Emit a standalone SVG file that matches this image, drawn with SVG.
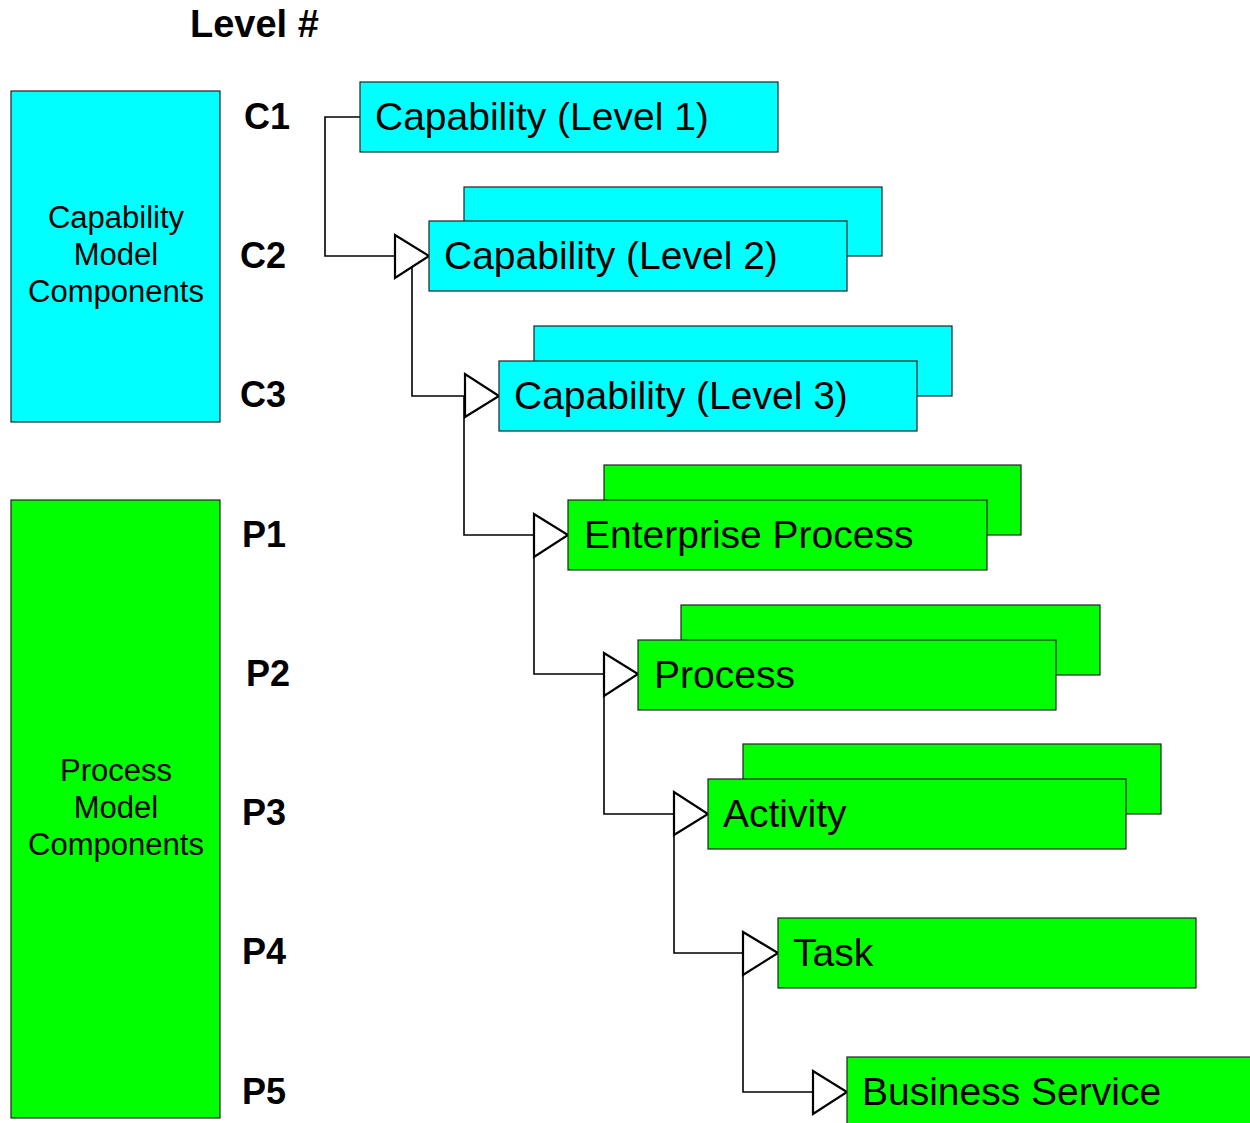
<svg xmlns="http://www.w3.org/2000/svg" width="1250" height="1123" viewBox="0 0 1250 1123">
<style>
text{font-family:"Liberation Sans",Arial,sans-serif;fill:#000}
.cy{fill:#00ffff;stroke:#222;stroke-width:1.2}
.gr{fill:#00ff00;stroke:#222;stroke-width:1.2}
.lbl{font-size:39px}
.lv{font-size:36px;font-weight:bold}
.pn{font-size:31px;text-anchor:middle}
.ln{fill:none;stroke:#000;stroke-width:1.6}
.tri{fill:#fff;stroke:#000;stroke-width:2.2;stroke-linejoin:miter}
</style>
<rect width="1250" height="1123" fill="#fff"/>
<g id="panel-capability">
<rect class="cy" x="11" y="91" width="209" height="331"/>
<text class="pn" x="116" y="228">Capability</text>
<text class="pn" x="116" y="265">Model</text>
<text class="pn" x="116" y="302">Components</text>
</g>
<g id="panel-process">
<rect class="gr" x="11" y="500" width="209" height="618"/>
<text class="pn" x="116" y="781">Process</text>
<text class="pn" x="116" y="818">Model</text>
<text class="pn" x="116" y="855">Components</text>
</g>
<g id="levels">
<text class="lv" x="190" y="37" style="font-size:38px">Level #</text>
<text class="lv" x="244" y="129">C1</text>
<text class="lv" x="240" y="268">C2</text>
<text class="lv" x="240" y="407">C3</text>
<text class="lv" x="242" y="547">P1</text>
<text class="lv" x="246" y="686">P2</text>
<text class="lv" x="242" y="825">P3</text>
<text class="lv" x="242" y="964">P4</text>
<text class="lv" x="242" y="1104">P5</text>
</g>
<g id="connectors">
<polyline class="ln" points="360,117 325,117 325,256 395,256"/>
<polyline class="ln" points="412,257 412,396 465,396"/>
<polyline class="ln" points="464,396 464,535 534,535"/>
<polyline class="ln" points="534,535 534,674 604,674"/>
<polyline class="ln" points="604,674 604,814 674,814"/>
<polyline class="ln" points="674,814 674,953 743,953"/>
<polyline class="ln" points="743,953 743,1092 813,1092"/>
<polygon class="tri" points="395,235 395,278 429,256"/>
<polygon class="tri" points="465,374 465,417 499,396"/>
<polygon class="tri" points="534,514 534,557 568,535"/>
<polygon class="tri" points="604,653 604,696 638,674"/>
<polygon class="tri" points="674,792 674,835 708,814"/>
<polygon class="tri" points="743,932 743,975 778,953"/>
<polygon class="tri" points="813,1071 813,1114 847,1092"/>
</g>
<g id="node-c1">
<rect class="cy" x="360" y="82" width="418" height="70"/>
<text class="lbl" x="375" y="130">Capability (Level 1)</text>
</g>
<g id="node-c2">
<rect class="cy" x="464" y="187" width="418" height="69"/>
<rect class="cy" x="429" y="221" width="418" height="70"/>
<text class="lbl" x="444" y="269">Capability (Level 2)</text>
</g>
<g id="node-c3">
<rect class="cy" x="534" y="326" width="418" height="70"/>
<rect class="cy" x="499" y="361" width="418" height="70"/>
<text class="lbl" x="514" y="409">Capability (Level 3)</text>
</g>
<g id="node-p1">
<rect class="gr" x="604" y="465" width="417" height="70"/>
<rect class="gr" x="568" y="500" width="419" height="70"/>
<text class="lbl" x="584" y="548">Enterprise Process</text>
</g>
<g id="node-p2">
<rect class="gr" x="681" y="605" width="419" height="70"/>
<rect class="gr" x="638" y="640" width="418" height="70"/>
<text class="lbl" x="654" y="688">Process</text>
</g>
<g id="node-p3">
<rect class="gr" x="743" y="744" width="418" height="70"/>
<rect class="gr" x="708" y="779" width="418" height="70"/>
<text class="lbl" x="723" y="827">Activity</text>
</g>
<g id="node-p4">
<rect class="gr" x="778" y="918" width="418" height="70"/>
<text class="lbl" x="793" y="966">Task</text>
</g>
<g id="node-p5">
<rect class="gr" x="847" y="1057" width="418" height="70"/>
<text class="lbl" x="862" y="1105">Business Service</text>
</g>
</svg>
